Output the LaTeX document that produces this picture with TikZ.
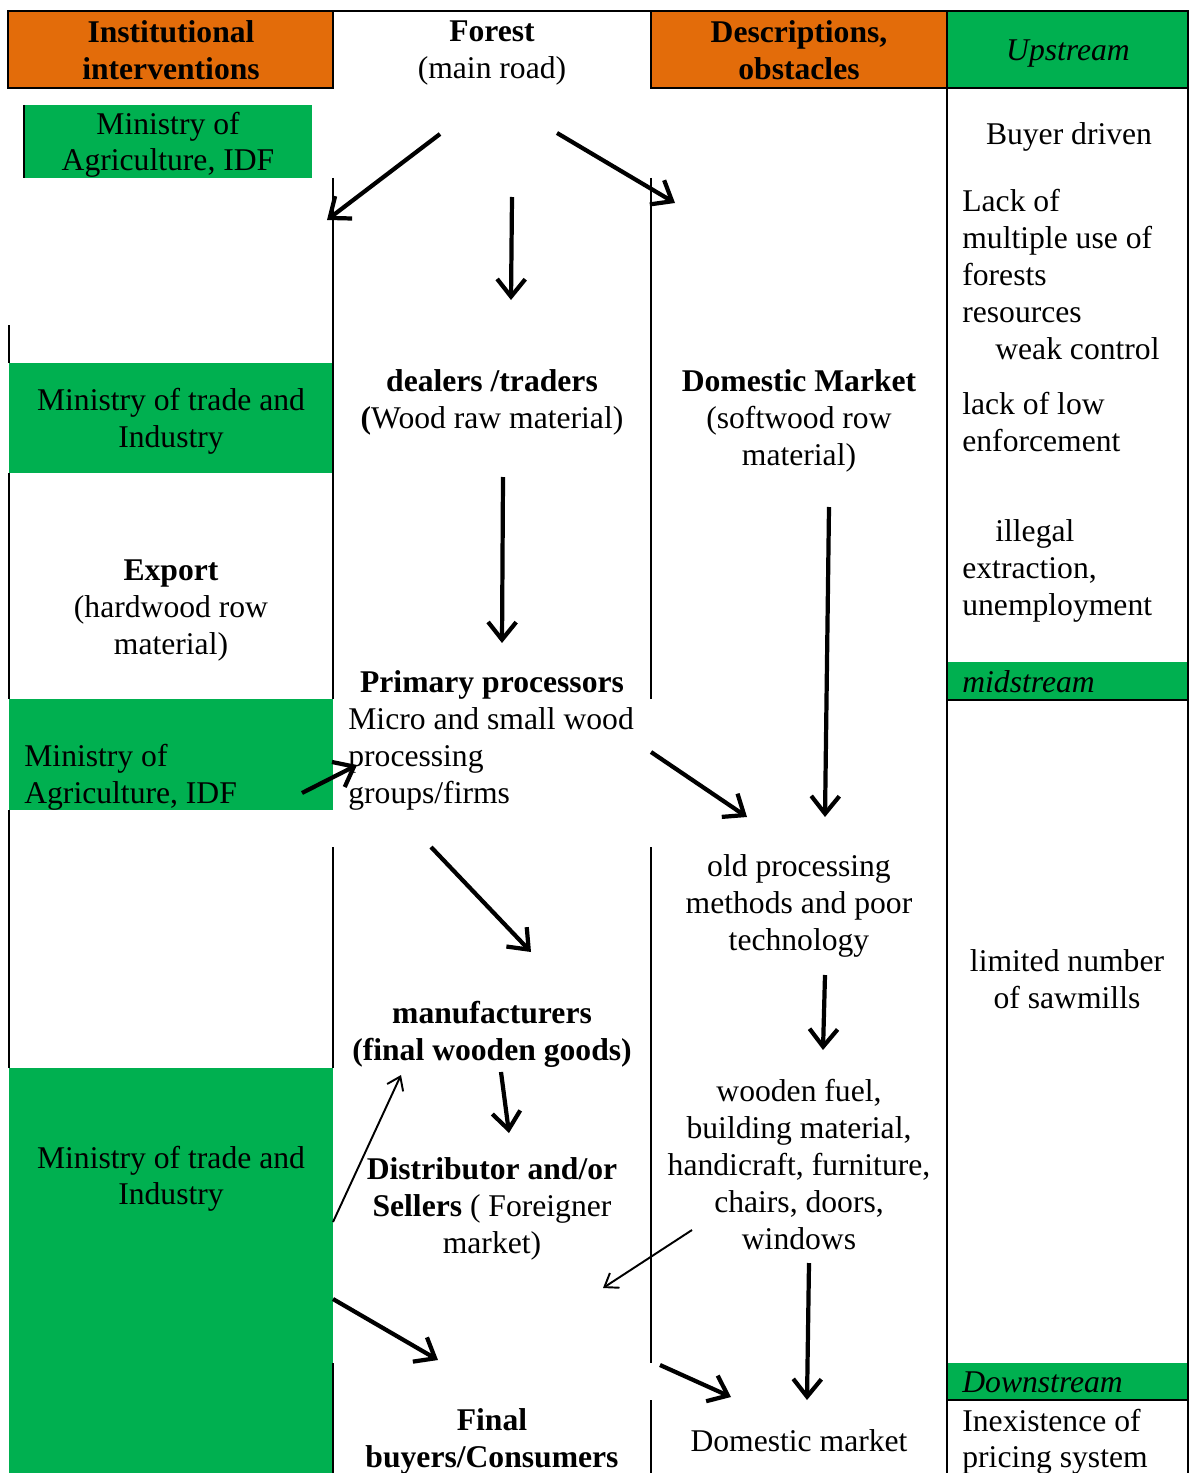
\documentclass[tikz,border=0pt]{standalone}
\usepackage{fontspec}
\setmainfont{Liberation Serif}
\usetikzlibrary{arrows.meta}
\definecolor{hdrorange}{HTML}{E36C0A}
\definecolor{cellgreen}{HTML}{00B050}

\begin{document}
\begin{tikzpicture}[x=0.02cm, y=-0.02cm,
        txt/.style={inner sep=0pt, align=center, yshift=-0.065cm, font=\fontsize{18}{21}\selectfont},
        ltxt/.style={txt, align=left, anchor=west},
        rule/.style={line width=1.1pt},
        flow/.style={line width=2.4pt, -{Straight Barb[length=10pt, width=16pt]}},
        thinflow/.style={line width=1.1pt, -{Straight Barb[length=7pt, width=10pt]}}]
        \useasboundingbox (0,0) rectangle (1194,1473);

        % Draw the coloured cells
        \filldraw[rule, fill=hdrorange] (8,11) rectangle (333,88);
        \filldraw[rule, fill=hdrorange] (651,11) rectangle (947,88);
        \filldraw[rule, fill=cellgreen] (947,11) rectangle (1188,88);
        \fill[cellgreen] (24,105) rectangle (312,178);
        \fill[cellgreen] (9,363) rectangle (333,473);
        \fill[cellgreen] (9,699) rectangle (333,810);
        \fill[cellgreen] (9,1068) rectangle (333,1473);
        \fill[cellgreen] (947,662) rectangle (1188,700);
        \fill[cellgreen] (947,1363) rectangle (1188,1400);

        % Draw the table lines
        \draw[rule] (333,11) -- (651,11);
        \draw[rule] (24,105) -- (24,178);
        \draw[rule] (9,325) -- (9,363);
        \draw[rule] (9,473) -- (9,699);
        \draw[rule] (9,810) -- (9,1068);
        \draw[rule] (333,178) -- (333,699);
        \draw[rule] (333,847) -- (333,1068);
        \draw[rule] (333,1363) -- (333,1473);
        \draw[rule] (651,178) -- (651,699);
        \draw[rule] (651,847) -- (651,1363);
        \draw[rule] (651,1400) -- (651,1473);
        \draw[rule] (947,88) -- (947,1473);
        \draw[rule] (1188,88) -- (1188,1473);
        \draw[rule] (947,700) -- (1188,700);
        \draw[rule] (947,1400) -- (1188,1400);

        % Header row
        \node[txt, font=\fontsize{18}{21}\selectfont\bfseries] (inst) at (171,46.5) {Institutional\\interventions};
        \node[txt] (forest) at (492,49.5) {\textbf{Forest}\\(main road)};
        \node[txt, font=\fontsize{18}{21}\selectfont\bfseries] (desc) at (799,46.5) {Descriptions,\\obstacles};
        \node[txt, font=\fontsize{18}{21}\selectfont\itshape] (up) at (1068,50) {Upstream};

        % Institutional interventions
        \node[txt] (agri1) at (168,141.5) {Ministry of\\Agriculture, IDF};
        \node[txt] (trade1) at (171,418) {Ministry of trade and\\Industry};
        \node[txt] (export) at (171,607) {\textbf{Export}\\(hardwood row\\material)};
        \node[ltxt] (agri2) at (24,774) {Ministry of\\Agriculture, IDF};
        \node[txt] (trade2) at (171,1175.5) {Ministry of trade and\\Industry};

        % Main chain
        \node[txt] (dealers) at (492,399.5) {\textbf{dealers /traders}\\\textbf{(}Wood raw material)};
        \node[txt, font=\fontsize{18}{21}\selectfont\bfseries] (primary) at (492,682) {Primary processors};
        \node[ltxt] (micro) at (348,756) {Micro and small wood\\processing\\groups/firms};
        \node[txt, font=\fontsize{18}{21}\selectfont\bfseries] (manuf) at (492,1031.5) {manufacturers\\(final wooden goods)};
        \node[txt] (distrib) at (492,1206) {\textbf{Distributor and/or}\\\textbf{Sellers} ( Foreigner\\market)};
        \node[txt, font=\fontsize{18}{21}\selectfont\bfseries] (final) at (492,1438.5) {Final\\buyers/Consumers};

        % Domestic chain
        \node[txt] (domestic) at (799,418) {\textbf{Domestic Market}\\(softwood row\\material)};
        \node[txt] (oldproc) at (799,903) {old processing\\methods and poor\\technology};
        \node[txt] (fuel) at (799,1161) {wooden fuel,\\building material,\\handicraft, furniture,\\chairs, doors,\\windows};
        \node[txt] (dommarket) at (799,1437) {Domestic market};

        % Obstacles column
        \node[txt] (buyer) at (1069,134) {Buyer driven};
        \node[ltxt] (lack) at (962,271) {Lack of\\multiple use of\\forests\\resources\\\hspace*{0.66cm}weak control};
        \node[ltxt] (low) at (962,418.5) {lack of low\\enforcement};
        \node[ltxt] (illegal) at (962,568) {\hspace*{0.66cm}illegal\\extraction,\\unemployment};
        \node[ltxt, font=\fontsize{18}{21}\selectfont\itshape] (mid) at (962,678) {midstream};
        \node[txt] (sawmills) at (1067,975.5) {limited number\\of sawmills};
        \node[ltxt, font=\fontsize{18}{21}\selectfont\itshape] (down) at (962,1379) {Downstream};
        \node[ltxt] (pricing) at (962,1438.5) {Inexistence of\\pricing system};

        % Arrow end points
        \coordinate (forest-l) at (440,134);
        \coordinate (export-in) at (327,220);
        \coordinate (forest-m) at (512,197);
        \coordinate (dealers-in) at (511,300);
        \coordinate (forest-r) at (557,133);
        \coordinate (domestic-in) at (675,203);
        \coordinate (dealers-out) at (503,477);
        \coordinate (primary-in) at (502,643);
        \coordinate (domestic-out) at (829,507);
        \coordinate (oldproc-in) at (825,817);
        \coordinate (micro-out) at (651,752);
        \coordinate (oldproc-in2) at (747,817);
        \coordinate (agri2-out) at (302,793);
        \coordinate (micro-in) at (357,765);
        \coordinate (micro-down) at (431,847);
        \coordinate (manuf-in) at (531,952);
        \coordinate (oldproc-out) at (825,975);
        \coordinate (fuel-in) at (823,1050);
        \coordinate (manuf-out) at (501,1072);
        \coordinate (distrib-in) at (509,1133);
        \coordinate (trade2-up) at (333,1222);
        \coordinate (manuf-in2) at (401,1075);
        \coordinate (fuel-out) at (692,1230);
        \coordinate (distrib-in2) at (603,1288);
        \coordinate (trade2-out) at (333,1299);
        \coordinate (final-in) at (438,1360);
        \coordinate (distrib-out) at (660,1365);
        \coordinate (dommarket-in) at (731,1397);
        \coordinate (fuel-down) at (809,1263);
        \coordinate (dommarket-in2) at (807,1400);

        % Draw the flows
        \draw[flow] (forest-l) -- (export-in);
        \draw[flow] (forest-m) -- (dealers-in);
        \draw[flow] (forest-r) -- (domestic-in);
        \draw[flow] (dealers-out) -- (primary-in);
        \draw[flow] (domestic-out) -- (oldproc-in);
        \draw[flow] (micro-out) -- (oldproc-in2);
        \draw[flow] (agri2-out) -- (micro-in);
        \draw[flow] (micro-down) -- (manuf-in);
        \draw[flow] (oldproc-out) -- (fuel-in);
        \draw[flow] (manuf-out) -- (distrib-in);
        \draw[thinflow] (trade2-up) -- (manuf-in2);
        \draw[thinflow] (fuel-out) -- (distrib-in2);
        \draw[flow] (trade2-out) -- (final-in);
        \draw[flow] (distrib-out) -- (dommarket-in);
        \draw[flow] (fuel-down) -- (dommarket-in2);
\end{tikzpicture}
\end{document}
